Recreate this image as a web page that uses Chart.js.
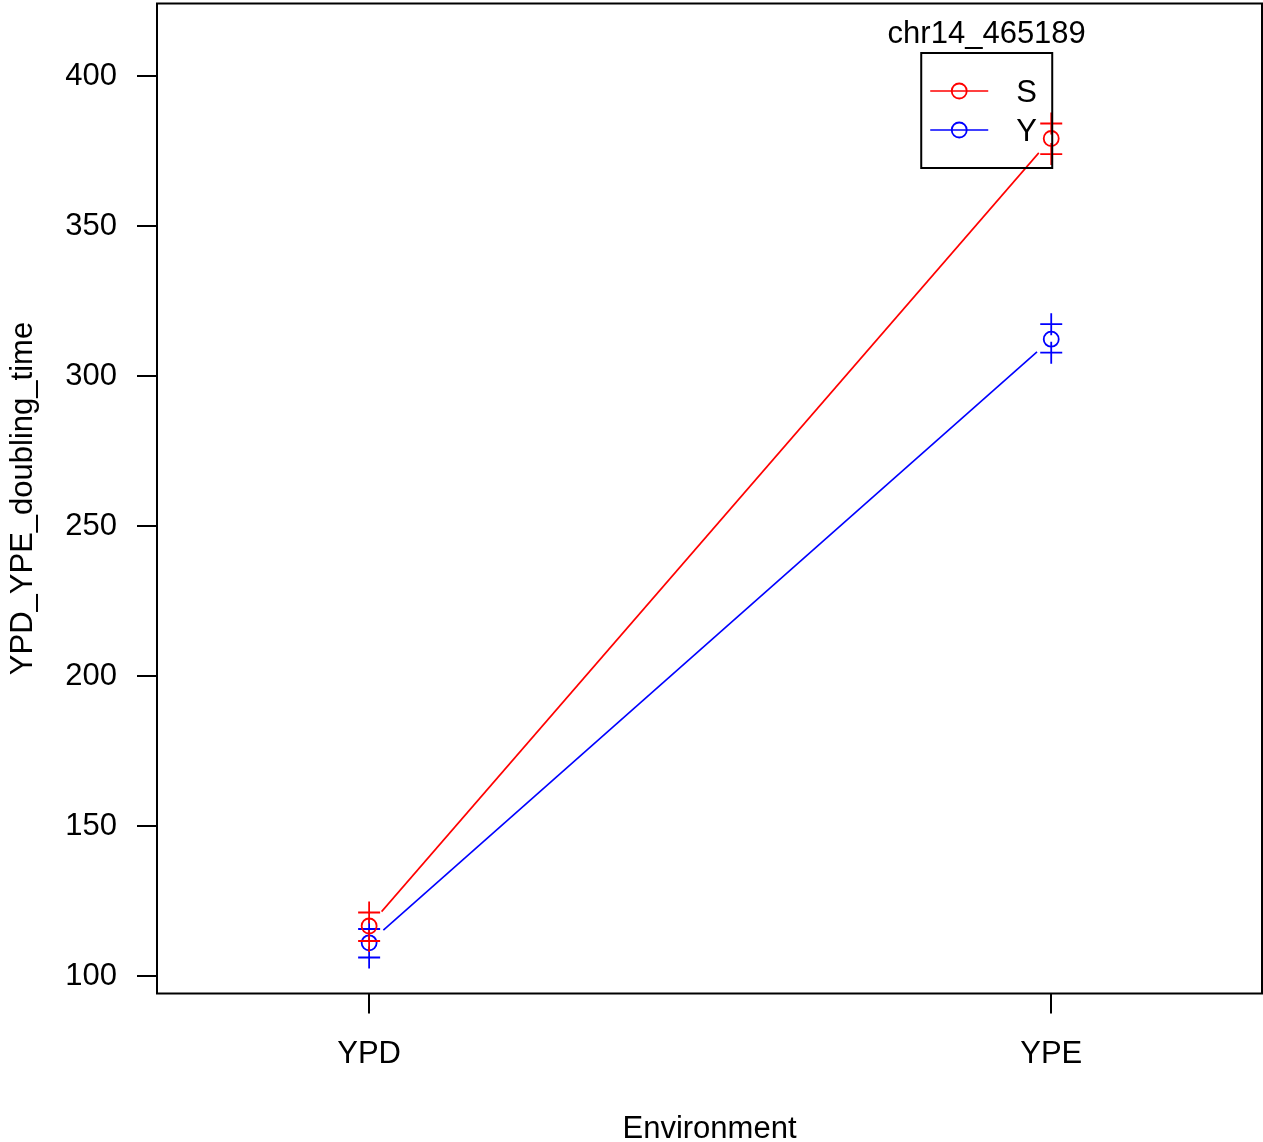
<!DOCTYPE html>
<html lang="en">
<head>
  <meta charset="UTF-8">
  <title>chr14_465189 interaction plot</title>
  <style>
    body { margin: 0; background: #fff; }
    .wrap { width: 1263px; height: 1142px; position: relative; }
  </style>
</head>
<body>
  <div class="wrap"><canvas id="grafico"></canvas></div>

  <script src="https://cdn.jsdelivr.net/npm/chart.js"></script>
  <script>
    // Data
    const categories = ['YPD', 'YPE'];
    const seriesNames = ['S', 'Y'];
    const seriesColors = ['#ff0000', '#0000ff'];
    const sMean  = [116.7, 379.2];
    const sUpper = [121.2, 384.2];
    const sLower = [111.7, 374.0];
    const yMean  = [111.1, 312.3];
    const yUpper = [115.7, 317.3];
    const yLower = [106.2, 307.8];
    const yTicks = [100, 150, 200, 250, 300, 350, 400];
    const legendTitle = 'chr14_465189';

    const means = [sMean, yMean];
    const uppers = [sUpper, yUpper];
    const lowers = [sLower, yLower];

    const FONT = 'Liberation Sans, Arial, Helvetica, sans-serif';
    const FSIZE = 31;
    const toPts = arr => arr.map((v, i) => ({ x: i + 1, y: v }));

    const datasets = [];
    seriesNames.forEach((name, k) => {
      datasets.push({
        label: name,
        data: toPts(means[k]),
        pointStyle: 'circle',
        pointRadius: 7.5,
        pointBorderWidth: 1.8,
        borderColor: seriesColors[k],
        backgroundColor: 'rgba(0,0,0,0)',
        showLine: false
      });
      datasets.push({
        label: name + ' se',
        data: toPts(uppers[k]).concat(toPts(lowers[k])),
        pointStyle: 'cross',
        pointRadius: 11,
        pointBorderWidth: 1.8,
        borderColor: seriesColors[k],
        showLine: false
      });
    });

    // lines between means, with a gap around each point (like R type="b")
    const gapLines = {
      id: 'gapLines',
      beforeDatasetsDraw(chart) {
        const { ctx, scales: { x, y } } = chart;
        const gap = 19;
        ctx.save();
        ctx.lineWidth = 1.6;
        means.forEach((m, k) => {
          ctx.strokeStyle = seriesColors[k];
          for (let i = 0; i < m.length - 1; i++) {
            const x0 = x.getPixelForValue(i + 1), y0 = y.getPixelForValue(m[i]);
            const x1 = x.getPixelForValue(i + 2), y1 = y.getPixelForValue(m[i + 1]);
            const len = Math.hypot(x1 - x0, y1 - y0);
            const ux = (x1 - x0) / len, uy = (y1 - y0) / len;
            ctx.beginPath();
            ctx.moveTo(x0 + ux * gap, y0 + uy * gap);
            ctx.lineTo(x1 - ux * gap, y1 - uy * gap);
            ctx.stroke();
          }
        });
        ctx.restore();
      }
    };

    // frame box + legend
    const frameLegend = {
      id: 'frameLegend',
      afterDraw(chart) {
        const { ctx, chartArea: a, scales: { x } } = chart;
        ctx.save();
        ctx.strokeStyle = '#000';
        ctx.lineWidth = 2;
        ctx.strokeRect(a.left, a.top, a.right - a.left, a.bottom - a.top);

        // legend
        const right = x.getPixelForValue(2) + 1;
        const left = right - 131, top = 53, h = 115;
        ctx.strokeRect(left, top, right - left, h);
        ctx.font = FSIZE + 'px ' + FONT;
        ctx.fillStyle = '#000';
        ctx.textAlign = 'center';
        ctx.textBaseline = 'middle';
        ctx.fillText(legendTitle, left + (right - left) / 2, 34);
        seriesNames.forEach((name, k) => {
          const yy = top + 38 + k * 39;
          ctx.strokeStyle = seriesColors[k];
          ctx.lineWidth = 1.6;
          ctx.beginPath();
          ctx.moveTo(left + 9, yy);
          ctx.lineTo(left + 67, yy);
          ctx.stroke();
          ctx.lineWidth = 1.8;
          ctx.beginPath();
          ctx.arc(left + 38, yy, 7.5, 0, Math.PI * 2);
          ctx.stroke();
          ctx.fillStyle = '#000';
          ctx.textAlign = 'left';
          ctx.fillText(name, left + 95, yy + 2);
        });
        ctx.restore();
      }
    };

    new Chart(document.getElementById('grafico'), {
      type: 'scatter',
      data: { datasets },
      plugins: [gapLines, frameLegend],
      options: {
        responsive: true,
        maintainAspectRatio: false,
        animation: false,
        layout: { autoPadding: false, padding: { top: 3.5, right: 1, left: 0, bottom: 0 } },
        plugins: { legend: { display: false }, tooltip: { enabled: false } },
        scales: {
          x: {
            type: 'linear',
            min: 0.689,
            max: 2.309,
            afterBuildTicks: s => { s.ticks = categories.map((c, i) => ({ value: i + 1 })); },
            afterFit: s => { s.height = 148.5; s.paddingLeft = 0; s.paddingRight = 0; },
            ticks: {
              callback: v => categories[v - 1],
              font: { family: FONT, size: FSIZE },
              color: '#000',
              padding: 22,
              maxRotation: 0,
              autoSkip: false
            },
            grid: { drawOnChartArea: false, drawTicks: true, tickLength: 20, color: '#000', lineWidth: 2 },
            border: { display: false },
            title: {
              display: true,
              text: 'Environment',
              font: { family: FONT, size: FSIZE, lineHeight: 1 },
              color: '#000',
              padding: { top: 0, bottom: -3 }
            }
          },
          y: {
            type: 'linear',
            min: 94.2,
            max: 424.2,
            afterBuildTicks: s => { s.ticks = yTicks.map(v => ({ value: v })); },
            afterFit: s => { s.width = 157; s.paddingTop = 0; s.paddingBottom = 0; },
            ticks: {
              font: { family: FONT, size: FSIZE },
              color: '#000',
              padding: 20
            },
            grid: { drawOnChartArea: false, drawTicks: true, tickLength: 20, color: '#000', lineWidth: 2 },
            border: { display: false },
            title: {
              display: true,
              text: 'YPD_YPE_doubling_time',
              font: { family: FONT, size: FSIZE, lineHeight: 1 },
              color: '#000',
              padding: { top: 8 }
            }
          }
        }
      }
    });
  </script>
</body>
</html>
